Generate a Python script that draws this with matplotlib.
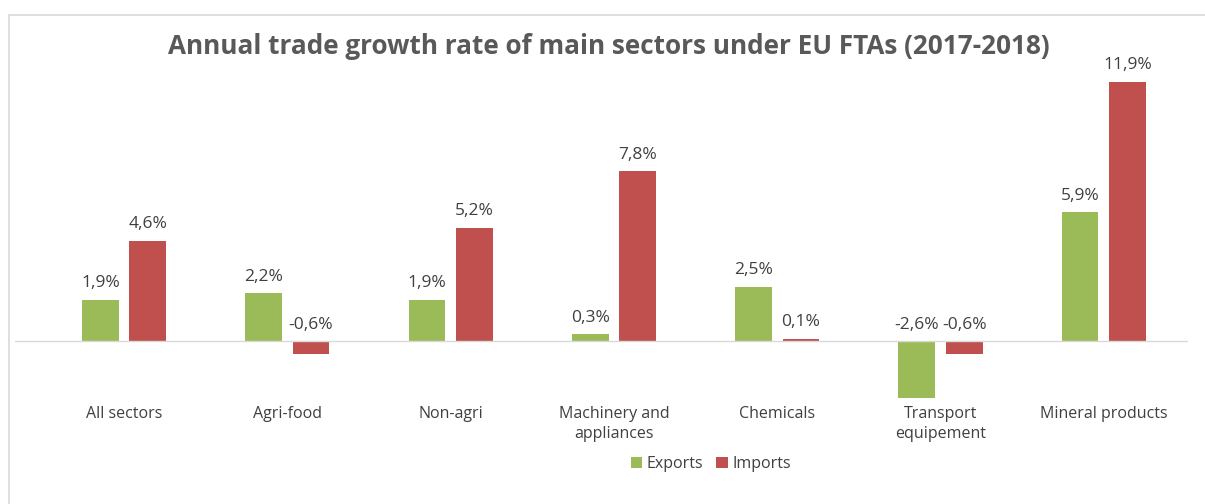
import matplotlib
matplotlib.use("Agg")
import matplotlib.pyplot as plt
import numpy as np
from matplotlib.patches import Rectangle

# ── Data ──────────────────────────────────────────────────────────────────────
categories = ["All sectors", "Agri-food", "Non-agri", "Machinery and\nappliances",
              "Chemicals", "Transport\nequipement", "Mineral products"]
exports = [1.9, 2.2, 1.9, 0.3, 2.5, -2.6, 5.9]
imports = [4.6, -0.6, 5.2, 7.8, 0.1, -0.6, 11.9]

GREEN = "#9BBB59"
RED = "#C0504D"
TEXT = "#404040"

plt.rcParams["font.family"] = ["Open Sans", "DejaVu Sans"]

W, H = 1205, 504
fig = plt.figure(figsize=(W / 100, H / 100), dpi=100)

# outer chart border (cut off on the right / bottom like the reference)
fig.patches.append(Rectangle((9 / W, -0.02), 1.05, (H - 15) / H + 0.02,
                             transform=fig.transFigure, fill=False,
                             edgecolor="#D9D9D9", linewidth=1.2))

# plot area: x 15..1188 px, y 60..400 px
ax = fig.add_axes([15 / W, 1 - 400 / H, (1188 - 15) / W, (400 - 60) / H])
ax.set_xlim((15 - 124) / 163.3, (1188 - 124) / 163.3)
ax.set_ylim(-(400 - 341) / 21.8, (341 - 60) / 21.8)

x = np.arange(len(categories))
w = 0.225
off = 0.145
b1 = ax.bar(x - off, exports, w, color=GREEN, label="Exports")
b2 = ax.bar(x + off, imports, w, color=RED, label="Imports")

for bars, vals in ((b1, exports), (b2, imports)):
    for bar, v in zip(bars, vals):
        y = max(v, 0)
        ax.annotate(f"{v:.1f}%".replace(".", ","),
                    (bar.get_x() + bar.get_width() / 2, y),
                    xytext=(0, 6), textcoords="offset points",
                    ha="center", va="bottom", fontsize=12.5, color=TEXT)

ax.axhline(0, color="#D9D9D9", linewidth=1)
for s in ax.spines.values():
    s.set_visible(False)
ax.set_yticks([])
ax.set_xticks([])

# category labels
for xi, c in zip(x, categories):
    ax.annotate(c, (xi, 0), xycoords=("data", "axes fraction"),
                xytext=(0, -4), textcoords="offset points",
                ha="center", va="top", fontsize=11.5, color=TEXT,
                linespacing=1.4)

fig.text(0.505, 1 - 47 / H, "Annual trade growth rate of main sectors under EU FTAs (2017-2018)",
         ha="center", va="center", fontsize=18.8, fontweight="bold", color="#595959")

fig.legend(handles=[b1, b2], loc="center", bbox_to_anchor=(0.59, 1 - 464 / H),
           ncol=2, frameon=False, fontsize=11.5, handlelength=0.7, handleheight=0.7,
           handletextpad=0.3, columnspacing=0.8, labelcolor=TEXT)

fig.savefig("out.png", dpi=100)
